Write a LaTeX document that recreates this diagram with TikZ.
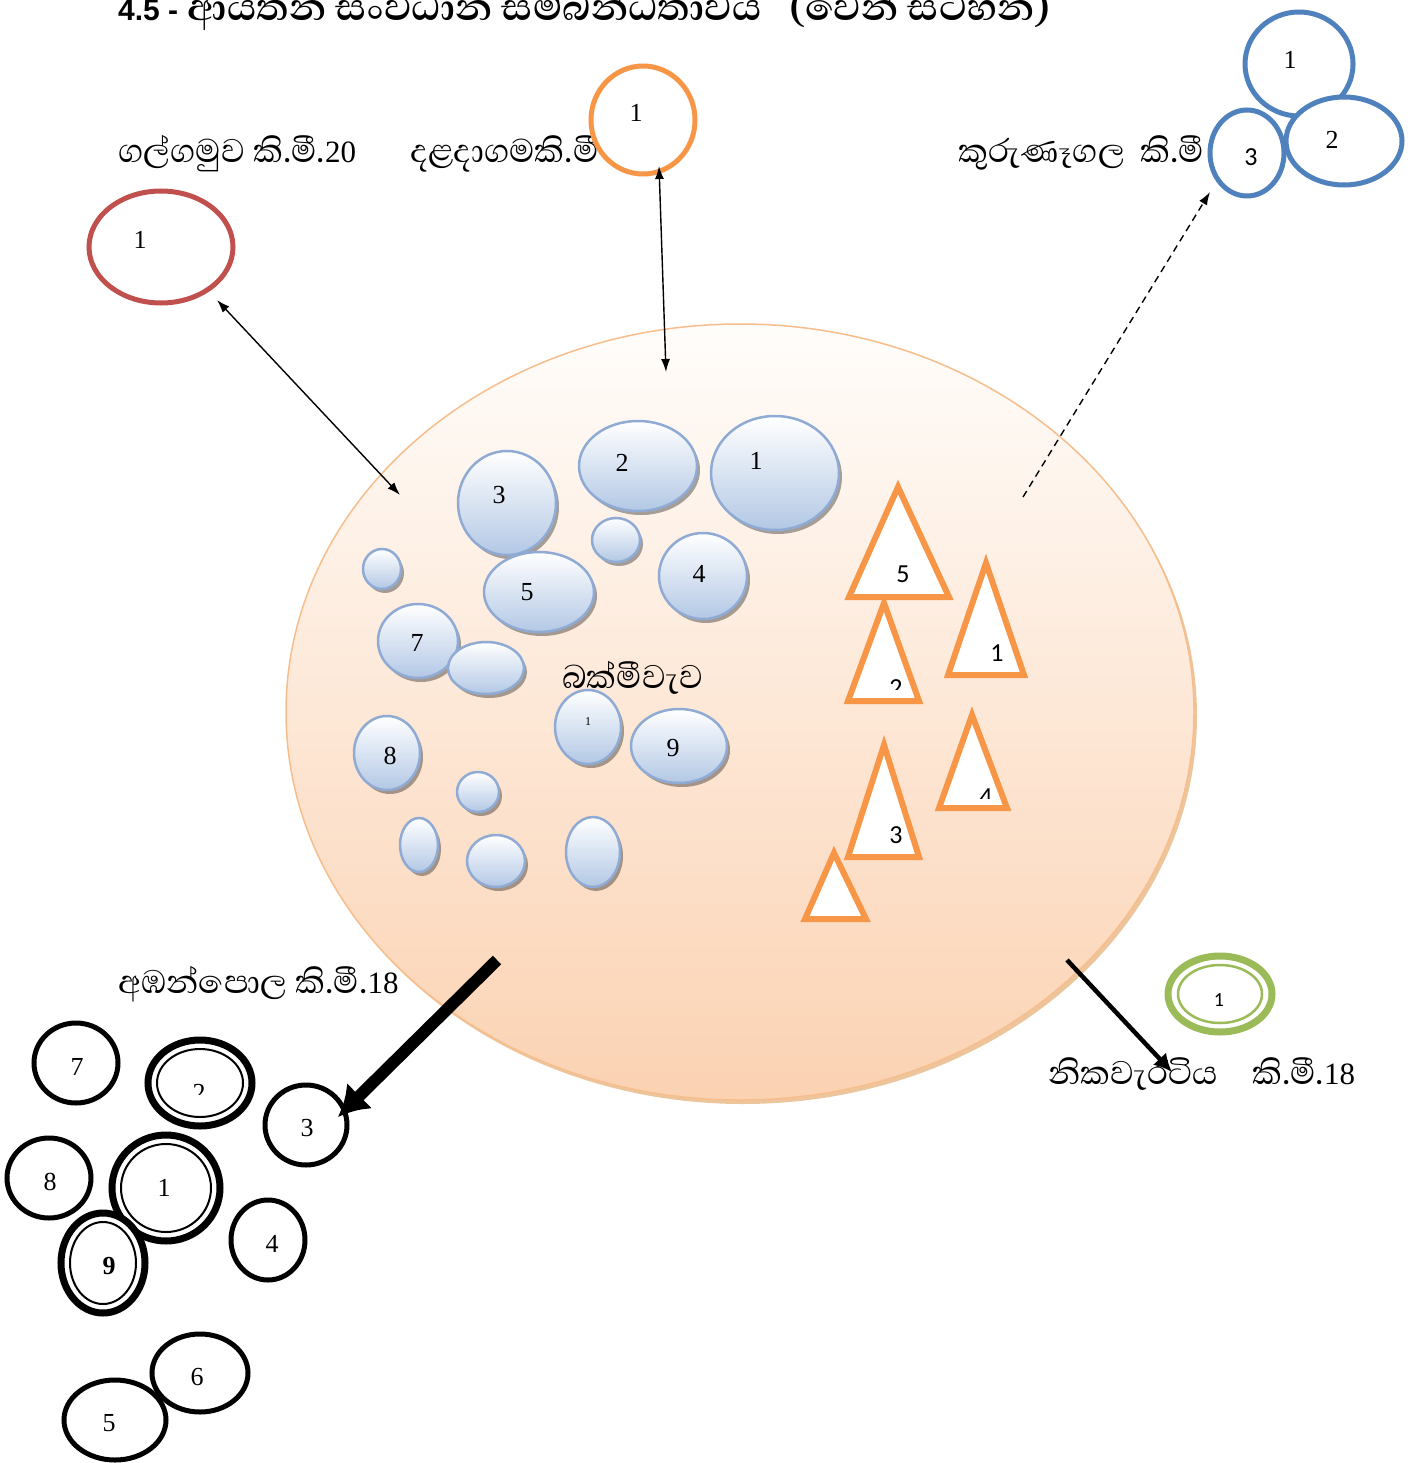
\documentclass[tikz,border=0pt]{standalone}
\usepackage{fontspec}
\setmainfont{Liberation Serif}
\newfontfamily\sinhfnt[Script=Sinhala]{Abhaya Libre}
\newfontfamily\calib{Carlito}
\newfontfamily\arialf{Liberation Sans}
\newcommand\nm[1]{{\rmfamily\fontsize{31}{33}\selectfont #1}}
\usetikzlibrary{arrows.meta,shapes.geometric,shadows}
\definecolor{bigTop}{HTML}{FFFDFB}
\definecolor{bigBot}{HTML}{FBD2B2}
\definecolor{bigEdge}{HTML}{F7BE8C}
\definecolor{bubF}{HTML}{B3C8E5}
\definecolor{bubE}{HTML}{8FABD4}
\definecolor{oran}{HTML}{F79646}
\definecolor{redc}{HTML}{C0504D}
\definecolor{bluec}{HTML}{4F81BD}
\definecolor{greenc}{HTML}{9BBB59}
\tikzset{
  big/.style={ellipse, draw=bigEdge, line width=1.5pt, top color=bigTop, bottom color=bigBot, inner sep=0,
    drop shadow={shadow xshift=3pt, shadow yshift=-4pt, fill=brown!60!orange, opacity=0.45}},
  bub/.style={ellipse, draw=bubE, line width=2.5pt, top color=white, bottom color=bubF, inner sep=0,
    drop shadow={shadow xshift=3pt, shadow yshift=-4pt, fill=black, opacity=0.35}},
  ring/.style={ellipse, draw, fill=white, inner sep=0},
  num/.style={font=\fontsize{26}{28}\selectfont, inner sep=0},
  snum/.style={font=\calib\fontsize{26}{28}\selectfont, inner sep=0},
  lab/.style={font=\sinhfnt\fontsize{42}{45}\selectfont, inner sep=0, anchor=base west},
  tri/.style={draw=oran, line width=6pt, fill=white, line join=miter},
  thin/.style={line width=1.4pt, {Latex[length=13pt,width=9pt]}-{Latex[length=13pt,width=9pt]}},
}
\begin{document}
\begin{tikzpicture}[x=1pt,y=-1pt]
\useasboundingbox (0,0) rectangle (1412,1463);
\fill[white] (0,0) rectangle (1412,1463);

% title
\node[font=\sinhfnt\bfseries\fontsize{48.5}{50}\selectfont, inner sep=0, anchor=base west] (title) at (118,21)
  {{\arialf\fontsize{30}{32}\selectfont 4.5 -} ආයතන සංවිධාන සම්බන්ධතාවය \ \ (වෙන් සටහන)};

% big ellipse
\node[big, minimum width=908pt, minimum height=776pt] (main) at (740,712) {};

% bubbles
\node[bub, minimum width=98pt, minimum height=104pt] (b3) at (507,503) {};
\node[bub, minimum width=118pt, minimum height=90pt] (b2) at (638,466) {};
\node[bub, minimum width=128pt, minimum height=114pt] (b1) at (775,473) {};
\node[bub, minimum width=48pt, minimum height=44pt] (bs1) at (616,540) {};
\node[bub, minimum width=88pt, minimum height=86pt] (b4) at (703,576) {};
\node[bub, minimum width=110pt, minimum height=80pt] (b5) at (539,592) {};
\node[bub, minimum width=38pt, minimum height=40pt] (bs2) at (382,569) {};
\node[bub, minimum width=80pt, minimum height=74pt] (b7) at (418,641) {};
\node[bub, minimum width=76pt, minimum height=52pt] (bs3) at (486,668) {};
\node[bub, minimum width=66pt, minimum height=74pt] (b8) at (387,753) {};
\node[bub, minimum width=66pt, minimum height=74pt] (b1s) at (588,727) {};
\node[bub, minimum width=96pt, minimum height=74pt] (b9) at (679,746) {};
\node[bub, minimum width=42pt, minimum height=40pt] (bs4) at (478,792) {};
\node[bub, minimum width=38pt, minimum height=54pt] (bs5) at (419,845) {};
\node[bub, minimum width=58pt, minimum height=52pt] (bs6) at (496,861) {};
\node[bub, minimum width=54pt, minimum height=70pt] (bs7) at (593,852) {};

\node[num] (b3l) at (499,495) {3};
\node[num] (b2l) at (622,463) {2};
\node[num] (b1l) at (756,461) {1};
\node[num] (b4l) at (699,574) {4};
\node[num] (b5l) at (527,592) {5};
\node[num] (b7l) at (417,643) {7};
\node[num] (b8l) at (390,756) {8};
\node[num, font=\fontsize{12}{13}\selectfont] (b1sl) at (588,722) {1};
\node[num] (b9l) at (673,748) {9};

\node[lab] (bak) at (562,688) {බක්මීවැව};

% triangles
\draw[tri] (898,487) -- (949,597) -- (849,597) -- cycle;
\node[snum] (t5) at (903,574) {5};
\draw[tri] (986,563) -- (1024,675) -- (948,675) -- cycle;
\node[snum] (t1) at (997,653) {1};
\draw[tri] (884,603) -- (919,701) -- (848,701) -- cycle;
\begin{scope}
  \clip (850,600) rectangle (930,689);
  \node[snum] (t2) at (896,688) {2};
\end{scope}
\draw[tri] (972,715) -- (1007,808) -- (939,808) -- cycle;
\begin{scope}
  \clip (940,700) rectangle (1010,798);
  \node[snum] (t4) at (986,797) {4};
\end{scope}
\draw[tri] (884,745) -- (919,857) -- (848,857) -- cycle;
\node[snum] (t3) at (896,835) {3};
\draw[tri] (834,853) -- (866,919) -- (805,919) -- cycle;

% labels (top)
\node[lab] (galg) at (118,163) {ගල්ගමුව කි.මී.\nm{20}};
\node[lab] (dala) at (410,163) {දළදාගමකි.මී};
\node[lab] (kuru) at (958,163) {කුරුණෑගල~~කි.මී};

% red
\node[ring, draw=redc, line width=5pt, minimum width=144pt, minimum height=112pt] (red) at (161,247) {};
\node[num] (redl) at (140,240) {1};
% orange
\node[ring, draw=oran, line width=5pt, minimum width=104pt, minimum height=108pt] (orc) at (643,120) {};
\node[num] (orcl) at (636,113) {1};
% blue
\node[ring, draw=bluec, line width=5pt, minimum width=108pt, minimum height=104pt] (bl1) at (1299,64) {};
\node[ring, draw=bluec, line width=5pt, minimum width=116pt, minimum height=88pt] (bl2) at (1344,141) {};
\node[ring, draw=bluec, line width=5pt, minimum width=74pt, minimum height=86pt] (bl3) at (1247,153) {};
\node[num] (bl1l) at (1290,60) {1};
\node[num] (bl2l) at (1332,140) {2};
\node[snum] (bl3l) at (1251,157) {3};

% green double
\node[ring, draw=greenc, line width=7pt, minimum width=104pt, minimum height=76pt] (gr) at (1220,994) {};
\node[ellipse, draw=greenc, line width=2.5pt, minimum width=84pt, minimum height=58pt, inner sep=0] (gri) at (1220,994) {};
\node[snum, font=\calib\fontsize{20}{22}\selectfont] (grl) at (1219,1000) {1};

% bottom labels
\node[lab] (amb) at (118,993) {අඹන්පොල කි.මී.\nm{18}};
\node[lab] (nika) at (1048,1084) {නිකවැරටිය\hspace{34pt}කි.මී.\nm{18}};

% black circles
\node[ring, line width=5pt, minimum width=84pt, minimum height=80pt] (k7) at (76,1063) {};
\node[ring, line width=7pt, minimum width=104pt, minimum height=86pt] (k2) at (200,1083) {};
\node[ellipse, draw, line width=2pt, minimum width=86pt, minimum height=68pt, inner sep=0] (k2i) at (200,1083) {};
\node[ring, line width=5pt, minimum width=82pt, minimum height=80pt] (k3) at (306,1125) {};
\node[ring, line width=5pt, minimum width=84pt, minimum height=80pt] (k8) at (49,1178) {};
\node[ring, line width=7pt, minimum width=108pt, minimum height=106pt] (k1) at (166,1188) {};
\node[ellipse, draw, line width=2pt, minimum width=90pt, minimum height=88pt, inner sep=0] (k1i) at (166,1188) {};
\node[ring, line width=7pt, minimum width=84pt, minimum height=100pt] (k9) at (103,1263) {};
\node[ellipse, draw, line width=2pt, minimum width=66pt, minimum height=82pt, inner sep=0] (k9i) at (103,1263) {};
\node[ring, line width=5pt, minimum width=74pt, minimum height=80pt] (k4) at (268,1240) {};
\node[ring, line width=5pt, minimum width=96pt, minimum height=78pt] (k6) at (200,1373) {};
\node[ring, line width=5pt, minimum width=102pt, minimum height=80pt] (k5) at (115,1420) {};

\node[num] (k7l) at (77,1067) {7};
\begin{scope}
  \clip (150,1060) rectangle (250,1094);
  \node[num] (k2l) at (199,1093) {2};
\end{scope}
\node[num] (k3l) at (307,1128) {3};
\node[num] (k8l) at (50,1182) {8};
\node[num] (k1l) at (164,1188) {1};
\node[num, font=\bfseries\fontsize{26}{28}\selectfont] (k9l) at (109,1266) {9};
\node[num] (k4l) at (272,1244) {4};
\node[num] (k6l) at (197,1377) {6};
\node[num] (k5l) at (109,1423) {5};

% connectors
\coordinate (redIn) at (400,495);
\coordinate (redOut) at (217,300);
\draw[thin] (redOut) -- (redIn);
\coordinate (orOut) at (659,166);
\coordinate (orIn) at (666,372);
\draw[thin] (orOut) -- (orIn);
\coordinate (blIn) at (1023,497);
\coordinate (blOut) at (1210,192);
\draw[line width=1.4pt, dashed, dash pattern=on 7pt off 5pt, -{Latex[length=13pt,width=9pt]}] (blIn) -- (blOut);
\coordinate (ambIn) at (497,960);
\coordinate (ambOut) at (338,1117);
\draw[line width=12pt, -{Latex[length=30pt,width=36pt]}] (ambIn) -- (ambOut);
\coordinate (nikIn) at (1067,960);
\coordinate (nikOut) at (1172,1072);
\draw[line width=4.5pt, -{Latex[length=18pt,width=18pt]}] (nikIn) -- (nikOut);
\end{tikzpicture}
\end{document}
